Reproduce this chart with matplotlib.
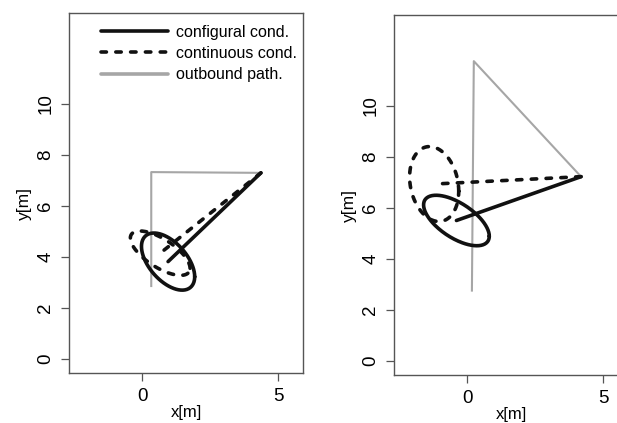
import numpy as np
import matplotlib
matplotlib.use("Agg")
import matplotlib.pyplot as plt
from matplotlib.lines import Line2D

plt.rcParams['font.family'] = ['Liberation Sans', 'DejaVu Sans']

# outbound paths (gray)
left_path_x = [0.33, 0.33, 4.37]
left_path_y = [2.82, 7.33, 7.30]
right_path_x = [0.17, 0.24, 4.19]
right_path_y = [2.72, 11.76, 7.23]

# homing vectors end points (start at the turning point of the path)
left_conf_end = (0.95, 3.82)
left_cont_end = (0.66, 4.15)
right_conf_end = (-0.40, 5.51)
right_cont_end = (-1.22, 6.94)

# error ellipses: half width x, half width y, correlation
left_conf_ell = (0.98, 1.12, -0.53)
left_cont_ell = (1.10, 0.87, -0.68)
right_conf_ell = (1.21, 0.99, -0.62)
right_cont_ell = (0.905, 1.47, -0.19)

legend_labels = ["configural cond.", "continuous cond.", "outbound path."]

BLACK = "#111111"
GRAY = "#a6a6a6"
SPINE = "#555555"
LW = 2.6


def ellipse(center, ell, n=200):
    hx, hy, rho = ell
    S = np.array([[hx * hx, rho * hx * hy], [rho * hx * hy, hy * hy]])
    L = np.linalg.cholesky(S)
    t = np.linspace(0, 2 * np.pi, n)
    pts = L @ np.vstack([np.cos(t), np.sin(t)])
    return center[0] + pts[0], center[1] + pts[1]


def panel(ax, px, py, conf_end, cont_end, conf_ell, cont_ell):
    ax.plot(px, py, color=GRAY, lw=1.5, solid_capstyle="butt")
    turn = (px[-1], py[-1])
    dash = dict(color=BLACK, lw=LW, dashes=(1.5, 2.6), dash_capstyle="round")
    solid = dict(color=BLACK, lw=LW, solid_capstyle="round")
    ax.plot([turn[0], cont_end[0]], [turn[1], cont_end[1]], **dash)
    ex, ey = ellipse(cont_end, cont_ell)
    ax.plot(ex, ey, **dash)
    ax.plot([turn[0], conf_end[0]], [turn[1], conf_end[1]], **solid)
    ex, ey = ellipse(conf_end, conf_ell)
    ax.plot(ex, ey, **solid)

    ax.set_xlim(-2.7, 5.92)
    ax.set_ylim(-0.55, 13.57)
    ax.set_xticks([0, 5])
    ax.set_yticks([0, 2, 4, 6, 8, 10])
    for lab in ax.get_yticklabels():
        lab.set_rotation(90)
        lab.set_va("center")
    ax.tick_params(direction="out", length=5.5, width=0.9, color=SPINE,
                   labelsize=13.5, pad=5)
    for s in ax.spines.values():
        s.set_color(SPINE)
        s.set_linewidth(1.0)
    ax.set_xlabel("x[m]", fontsize=12, labelpad=0)
    ax.set_ylabel("y[m]", fontsize=12.5)
    ax.yaxis.set_label_coords(-0.158, 0.47)


fig = plt.figure(figsize=(6.17, 4.23), dpi=100)
ax1 = fig.add_axes([69 / 617, 50 / 423, 234 / 617, 360 / 423])
ax2 = fig.add_axes([394 / 617, 48 / 423, 234 / 617, 360 / 423])

panel(ax1, left_path_x, left_path_y, left_conf_end, left_cont_end,
      left_conf_ell, left_cont_ell)
panel(ax2, right_path_x, right_path_y, right_conf_end, right_cont_end,
      right_conf_ell, right_cont_ell)

handles = [
    Line2D([], [], color=BLACK, lw=LW, solid_capstyle="round"),
    Line2D([], [], color=BLACK, lw=LW, dashes=(1.5, 2.6), dash_capstyle="round"),
    Line2D([], [], color=GRAY, lw=LW, solid_capstyle="round"),
]
ax1.legend(handles, legend_labels, loc="upper left",
           bbox_to_anchor=(0.137, 0.968), frameon=False, fontsize=11.5,
           handlelength=4.2, handletextpad=0.5, labelspacing=0.4,
           borderpad=0, borderaxespad=0)

fig.savefig("out.png", dpi=100)
